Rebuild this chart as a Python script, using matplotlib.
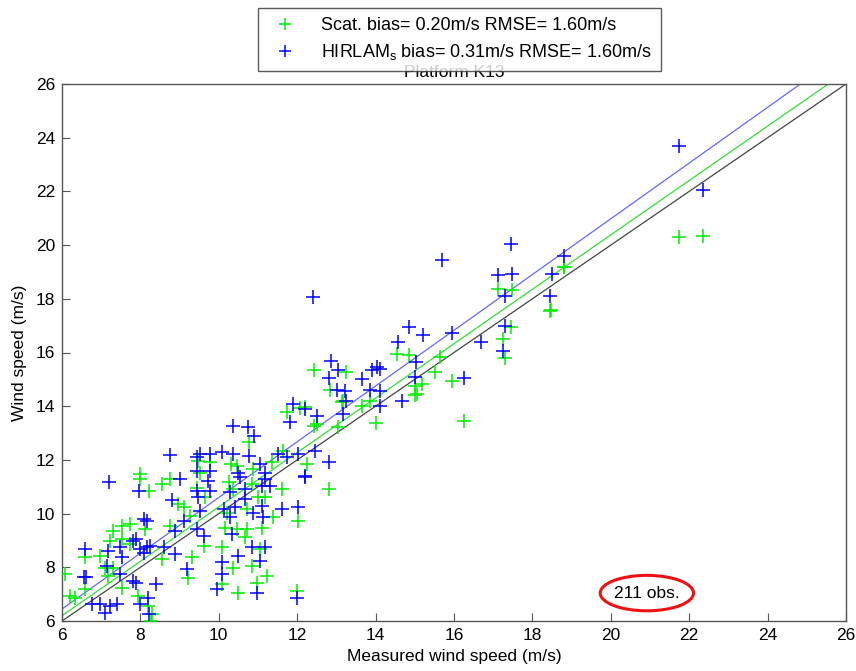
import matplotlib
matplotlib.use("Agg")
import matplotlib.pyplot as plt
from matplotlib.patches import Ellipse
import numpy as np

plt.rcParams['font.family'] = ['Liberation Sans', 'DejaVu Sans']

# Scatterometer wind speed vs measured
scat_x = [21.75, 22.35, 18.8, 17.11, 17.48, 18.48, 18.45, 17.46, 17.24, 17.29, 15.95, 16.26,
          14.54, 14.84, 15.65, 12.42, 13.25, 15.51, 12.84, 15.01, 15.18, 15.01, 15.05, 13.18,
          13.65, 13.86, 12.2, 12.42, 12.5, 13.05, 14.02, 12.25,
          7.99, 8.0, 8.23, 8.54, 8.76, 8.97, 9.1, 9.27, 8.12, 7.52, 7.74, 7.31, 8.76, 7.23,
          7.52, 6.59, 6.97, 7.74, 8.54, 7.1, 7.31, 7.18, 7.52, 6.59, 6.08, 6.2, 6.33, 9.22,
          9.31, 7.95, 8.2, 8.29, 8.26,
          11.74, 10.76, 11.65, 9.48, 9.78, 10.32, 10.46, 10.88, 11.35, 12.8, 11.61, 9.52,
          9.44, 10.25, 10.37, 10.84, 11.01, 11.18, 9.65, 10.2, 10.72, 11.37, 12.03, 10.16,
          10.46, 10.72, 10.67, 11.1, 9.61, 10.08, 11.05, 10.37, 10.84, 11.22, 10.08, 10.97,
          10.5, 11.99, 12.08, 13.14, 18.8]
scat_y = [20.3, 20.35, 19.18, 18.35, 18.31, 17.6, 17.55, 16.95, 16.49, 15.79, 14.92, 13.44,
          15.95, 15.89, 15.83, 15.33, 15.27, 15.27, 14.61, 14.77, 14.83, 14.4, 14.45, 14.21,
          14.02, 14.21, 13.96, 13.28, 13.34, 13.24, 13.37, 11.85,
          11.47, 11.29, 10.85, 11.1, 11.29, 10.35, 10.23, 9.92, 9.42, 9.54, 9.6, 9.36, 9.54, 8.99,
          9.05, 8.37, 8.43, 8.86, 8.3, 7.99, 7.99, 7.68, 7.24, 7.18, 7.74, 6.93, 6.87, 7.62,
          8.37, 6.93, 6.56, 6.25, 6.0,
          13.78, 12.66, 12.34, 11.97, 11.91, 11.85, 11.78, 11.66, 11.91, 10.91, 10.91, 11.53,
          10.97, 11.16, 10.91, 11.1, 10.6, 10.6, 10.6, 10.04, 10.17, 9.86, 9.73, 9.48,
          9.42, 9.42, 9.11, 9.48, 8.8, 8.74, 8.68, 7.99, 8.05, 7.68, 7.37, 7.43,
          7.06, 7.12, 13.94, 14.15, 19.2]

# HIRLAM_s wind speed vs measured
hir_x = [21.75, 22.35, 17.46, 15.69, 18.8, 17.11, 17.48, 18.5, 17.31, 18.46, 15.95, 16.69,
         17.29, 17.24, 16.26, 14.84, 15.2, 14.57, 15.04, 12.86, 13.05, 14.03, 13.9, 14.1,
         12.82, 13.65, 15.01, 13.01, 13.22, 13.86, 14.12, 14.67, 13.25, 14.12, 13.18, 12.5,
         12.46, 12.82, 12.2, 12.4,
         8.76, 9.44, 7.21, 7.97, 9.01, 9.44, 9.44, 8.8, 9.1, 8.09, 8.16, 8.88, 9.44, 7.82,
         7.9, 6.59, 7.18, 7.48, 7.99, 8.08, 8.16, 8.25, 8.59, 7.52, 8.88, 7.14, 7.48, 6.56,
         6.62, 6.76, 6.97, 7.23, 7.4, 7.1, 7.82, 7.9, 8.41, 9.18, 7.99, 8.2, 8.23,
         11.82, 10.37, 10.74, 10.91, 9.52, 9.78, 10.08, 10.37, 10.76, 11.52, 11.74, 12.03,
         9.78, 10.5, 10.54, 11.05, 11.18, 11.18, 12.2, 11.31, 9.73, 9.78, 10.29, 10.67,
         11.1, 10.67, 9.48, 9.52, 10.14, 10.42, 10.29, 10.88, 11.1, 11.14, 11.62, 12.02,
         10.33, 9.61, 10.84, 11.18, 10.5, 11.05, 10.08, 10.08, 9.95, 10.97, 11.99, 11.9, 12.2]
hir_y = [23.7, 22.05, 20.03, 19.43, 19.58, 18.87, 18.93, 18.93, 18.12, 18.12, 16.72, 16.4,
         17.0, 16.04, 15.04, 16.94, 16.66, 16.39, 15.64, 15.7, 15.33, 15.46, 15.33, 15.4,
         15.04, 15.01, 15.08, 14.61, 14.58, 14.61, 14.58, 14.21, 14.21, 13.99, 13.71, 13.65,
         12.34, 11.91, 11.41, 18.05,
         12.19, 12.12, 11.16, 10.85, 11.29, 11.6, 10.85, 10.5, 9.73, 9.8, 9.73, 9.36, 9.42, 8.99,
         9.05, 8.68, 8.61, 8.74, 8.68, 8.55, 8.74, 8.8, 8.74, 8.37, 8.49, 8.05, 7.74, 7.64,
         7.64, 6.62, 6.62, 6.56, 6.62, 6.31, 7.49, 7.43, 7.37, 7.93, 6.62, 6.87, 6.25,
         13.4, 13.28, 13.24, 12.9, 12.22, 12.22, 12.28, 12.22, 12.16, 12.22, 12.1, 12.22,
         11.6, 11.53, 11.35, 11.85, 11.53, 11.29, 11.35, 11.04, 11.22, 10.85, 10.79, 10.91,
         11.04, 10.54, 10.6, 10.1, 10.17, 10.23, 9.86, 10.04, 10.29, 9.86, 10.17, 10.25,
         9.24, 9.17, 8.74, 8.74, 8.43, 8.24, 8.18, 7.74, 7.18, 7.06, 6.87, 14.08, 13.9]

# Fitted lines (slope, intercept)
scat_fit = (1.013, 0.12)
hir_fit = (1.038, 0.22)
line_range = [6, 26]

legend_labels = ["Scat. bias= 0.20m/s RMSE= 1.60m/s",
                 r"HIRLAM$_\mathregular{s}$ bias= 0.31m/s RMSE= 1.60m/s"]
ticks = [6, 8, 10, 12, 14, 16, 18, 20, 22, 24, 26]

fig = plt.figure(figsize=(8.56, 6.71), dpi=100)
ax = fig.add_axes([62/856, 50/671, 784/856, 537/671])

green = '#00ee00'
blue = '#0000ff'

ax.plot(scat_x, scat_y, '+', color=green, markersize=10, mew=1.1, linestyle='none',
        label=legend_labels[0], zorder=3)
ax.plot(hir_x, hir_y, '+', color=blue, markersize=10, mew=1.1, linestyle='none',
        label=legend_labels[1], zorder=3)

xr = np.array(line_range, dtype=float)
ax.plot(xr, xr, color='#444444', lw=0.9, zorder=2)
ax.plot(xr, scat_fit[0]*xr + scat_fit[1], color='#33dd33', lw=0.9, zorder=2)
ax.plot(xr, hir_fit[0]*xr + hir_fit[1], color='#6666ff', lw=0.9, zorder=2)

ax.set_xlim(6, 26)
ax.set_ylim(6, 26)
ax.set_xticks(ticks)
ax.set_yticks(ticks)
ax.tick_params(direction='in', length=6, width=0.8, labelsize=12.5, colors='#555555',
               labelcolor='black', pad=5)
for s in ax.spines.values():
    s.set_color('#555555')
    s.set_linewidth(1.0)

ax.set_xlabel("Measured wind speed (m/s)", fontsize=12.5, labelpad=4)
ax.set_ylabel("Wind speed (m/s)", fontsize=12.5, labelpad=6)
ax.set_title("Platform K13", fontsize=12.5, pad=5)

ax.text(0.746, 0.052, "211 obs.", transform=ax.transAxes, ha='center', va='center',
        fontsize=12.5)
ax.add_patch(Ellipse((0.746, 0.052), 0.119, 0.066, transform=ax.transAxes,
                     fill=False, edgecolor='#ee1111', lw=2.2, zorder=5))

leg = fig.legend(loc='upper left', bbox_to_anchor=(258/856, 1 - 8/671),
                 fontsize=13, frameon=True, fancybox=False, borderpad=0.5,
                 handletextpad=1.0, labelspacing=0.45, markerscale=0.8,
                 borderaxespad=0)
leg.get_frame().set_edgecolor('#333333')
leg.get_frame().set_linewidth(1.0)

fig.savefig("out.png", dpi=100)
